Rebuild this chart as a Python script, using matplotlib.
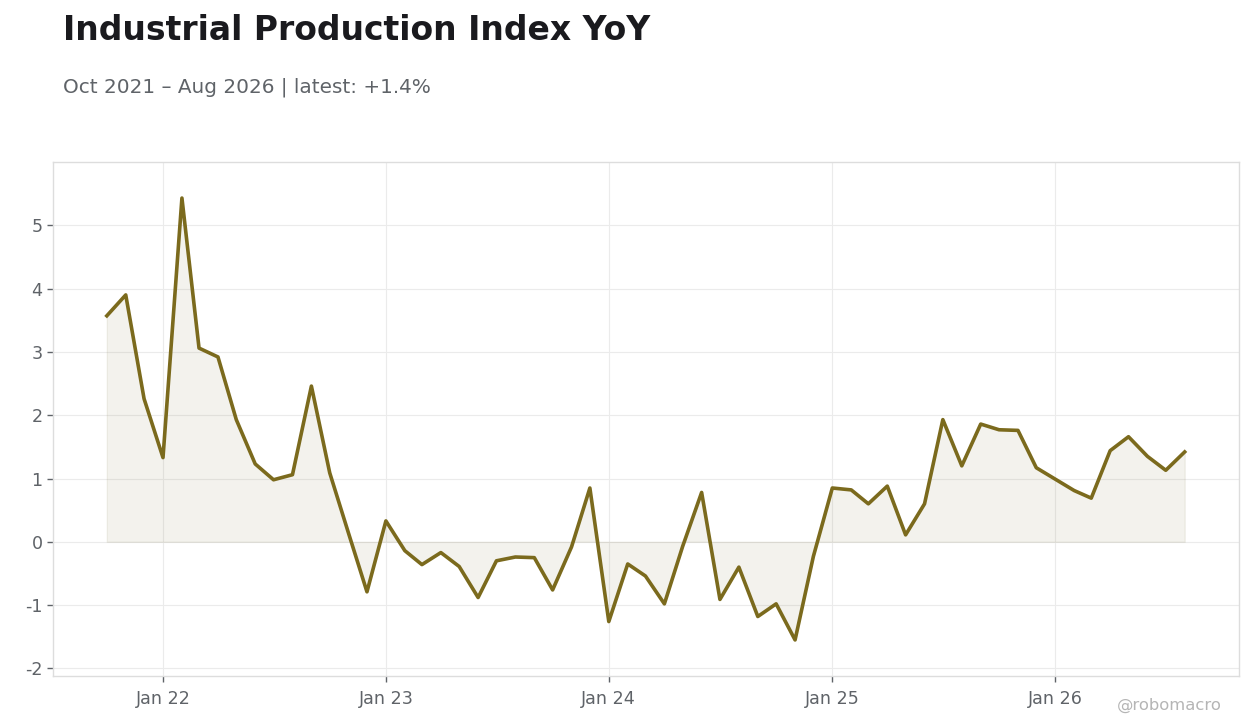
import numpy as np
import pandas as pd
import matplotlib
matplotlib.use("Agg")
import matplotlib.pyplot as plt
import matplotlib.dates as mdates

plt.rcParams['font.family'] = ['DejaVu Sans']
plt.rcParams['axes.unicode_minus'] = False

dates = pd.date_range("2021-10-01", "2026-08-01", freq="MS")
yoy = [3.57, 3.90, 2.26,
       1.33, 5.43, 3.06, 2.92, 1.93, 1.23, 0.98, 1.06, 2.46, 1.09, 0.13, -0.79,
       0.33, -0.14, -0.36, -0.17, -0.39, -0.88, -0.30, -0.24, -0.25, -0.76, -0.08, 0.85,
       -1.26, -0.35, -0.54, -0.98, -0.07, 0.78, -0.91, -0.40, -1.18, -0.98, -1.55, -0.23,
       0.85, 0.82, 0.60, 0.88, 0.11, 0.60, 1.93, 1.20, 1.86, 1.77, 1.76, 1.17,
       0.99, 0.81, 0.69, 1.44, 1.66, 1.35, 1.13, 1.42]

line_color = '#7b6a1d'
grid_color = '#ebebeb'
text_gray = '#5f6368'

fig = plt.figure(figsize=(12.6, 7.28), dpi=100)
ax = fig.add_axes([0.042, 0.0714, 0.941, 0.7061])

ax.fill_between(dates, yoy, 0, color='#8a8050', alpha=0.1, linewidth=1)
ax.plot(dates, yoy, color=line_color, linewidth=2.6)

ax.set_ylim(-2.12, 6.0)
ax.set_yticks([-2, -1, 0, 1, 2, 3, 4, 5])
ax.margins(x=0.05)
ax.xaxis.set_major_locator(mdates.YearLocator())
ax.xaxis.set_major_formatter(mdates.DateFormatter('Jan %y'))

ax.grid(True, color=grid_color, linewidth=0.8)
ax.set_axisbelow(True)
for s in ax.spines.values():
    s.set_color('#dddddd')
    s.set_linewidth(1)
ax.tick_params(colors=text_gray, labelsize=12.6, length=4, width=1)
ax.tick_params(axis='x', pad=6)
for t in ax.get_xticklines() + ax.get_yticklines():
    t.set_color('#555555')

fig.text(0.05, 0.945, 'Industrial Production Index YoY', fontsize=23.8,
         fontweight='bold', color='#1a1a1e', ha='left', va='baseline')
fig.text(0.05, 0.873, 'Oct 2021 \u2013 Aug 2026 | latest: +1.4%', fontsize=14.4,
         color=text_gray, ha='left', va='baseline')
fig.text(0.97, 0.025, '@robomacro', fontsize=11.8, color='#b5b5b5',
         ha='right', va='baseline')

fig.savefig('out.png', dpi=100, facecolor='white')
